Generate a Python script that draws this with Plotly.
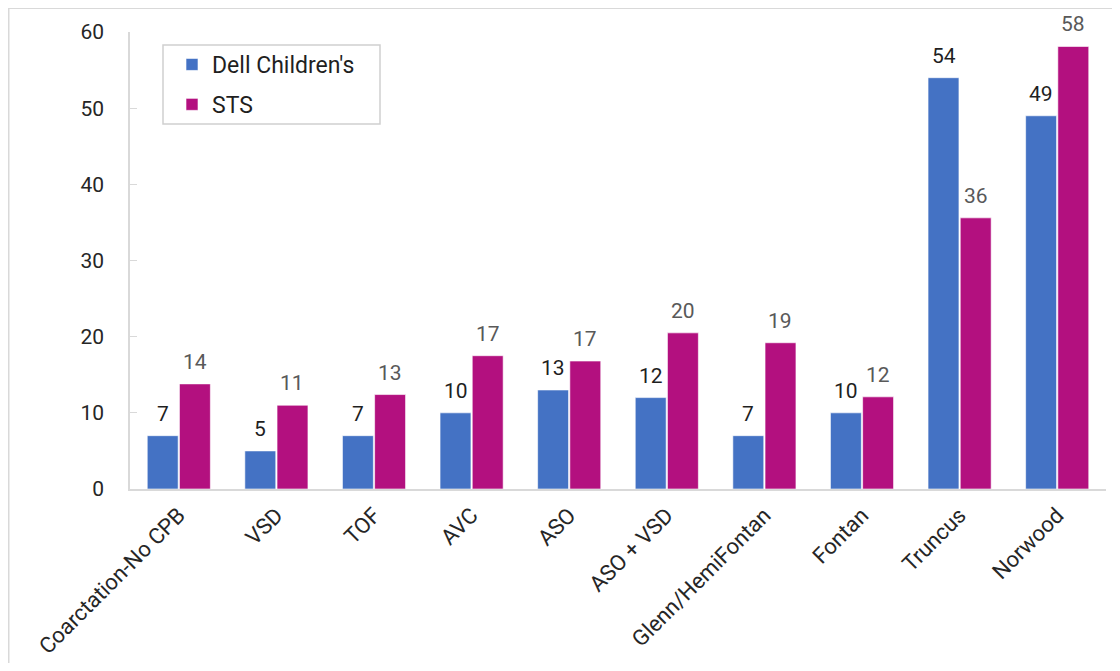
import plotly.graph_objects as go

categories = ["Coarctation-No CPB", "VSD", "TOF", "AVC", "ASO", "ASO + VSD",
              "Glenn/HemiFontan", "Fontan", "Truncus", "Norwood"]
dell_values = [7, 5, 7, 10, 13, 12, 7, 10, 54, 49]
dell_labels = [7, 5, 7, 10, 13, 12, 7, 10, 54, 49]
sts_values = [13.8, 11.0, 12.4, 17.5, 16.8, 20.5, 19.2, 12.1, 35.6, 58.1]
sts_labels = [14, 11, 13, 17, 17, 20, 19, 12, 36, 58]
y_ticks = [0, 10, 20, 30, 40, 50, 60]

FONT = "Roboto, Arial, sans-serif"
OFF = 8  # page body margin
W, H = 1104, 655
# plot area in window pixels: x 130..1106, y 32..489
L = 130 - OFF
T = 32 - OFF
PW, PH = 976, 457
R = W - L - PW
B = H - T - PH

def px_x(x):
    return (x - OFF - L) / PW

def px_y(y):
    return (T + PH - (y - OFF)) / PH

fig = go.Figure()
fig.add_trace(go.Bar(
    name="Dell Children's", x=categories, y=dell_values,
    marker=dict(color="#4472C4", line=dict(color="rgba(255,255,255,0.6)", width=1)),
    legendgroup="a",
))
fig.add_trace(go.Bar(
    name="STS", x=categories, y=sts_values,
    marker=dict(color="#B3107F", line=dict(color="rgba(255,255,255,0.6)", width=1)),
    legendgroup="b",
))

annotations = []
for cat, v, lab in zip(categories, dell_values, dell_labels):
    annotations.append(dict(
        x=cat, y=v, xref="x", yref="y", text=str(lab), showarrow=False,
        xanchor="center", yanchor="bottom", xshift=-16, yshift=8,
        font=dict(family=FONT, size=21, color="#1f1f1f"),
    ))
for cat, v, lab in zip(categories, sts_values, sts_labels):
    annotations.append(dict(
        x=cat, y=v, xref="x", yref="y", text=str(lab), showarrow=False,
        xanchor="center", yanchor="bottom", xshift=16, yshift=8,
        font=dict(family=FONT, size=21, color="#595959"),
    ))

fig.update_layout(
    width=W, height=H,
    margin=dict(l=L, r=R, t=T, b=B, autoexpand=False),
    paper_bgcolor="white", plot_bgcolor="white",
    font=dict(family=FONT, size=20, color="#262626"),
    barmode="group", bargap=0.34, bargroupgap=0.04,
    showlegend=True,
    legend=dict(
        x=px_x(172), y=px_y(43), xanchor="left", yanchor="top",
        bgcolor="rgba(0,0,0,0)", borderwidth=0,
        font=dict(family=FONT, size=23, color="#1f1f1f"),
        traceorder="grouped", tracegroupgap=7,
    ),
    xaxis=dict(
        showline=True, linecolor="#d9d9d9", linewidth=1.5,
        tickangle=-45, ticks="", showgrid=False,
        tickfont=dict(family=FONT, size=22, color="#262626"),
        ticklabelstandoff=3,
    ),
    yaxis=dict(
        range=[0, 60], tickvals=y_ticks, showline=True, linecolor="#d9d9d9",
        linewidth=1.5, ticks="inside", ticklen=7, tickcolor="#d9d9d9",
        showgrid=False, zeroline=False,
        tickfont=dict(family=FONT, size=21, color="#262626"),
        ticklabelstandoff=20,
    ),
    annotations=annotations,
    shapes=[
        dict(type="rect", xref="paper", yref="paper",
             x0=px_x(163), x1=px_x(380), y0=px_y(124), y1=px_y(45),
             line=dict(color="#d0d0d0", width=1.5), fillcolor="rgba(0,0,0,0)"),
        dict(type="line", xref="paper", yref="paper",
             x0=px_x(8), x1=px_x(1125), y0=px_y(8), y1=px_y(8),
             line=dict(color="#d9d9d9", width=2)),
        dict(type="line", xref="paper", yref="paper",
             x0=px_x(8.5), x1=px_x(8.5), y0=px_y(8), y1=px_y(680),
             line=dict(color="#d9d9d9", width=2)),
    ],
)

fig.write_html("out.html")
